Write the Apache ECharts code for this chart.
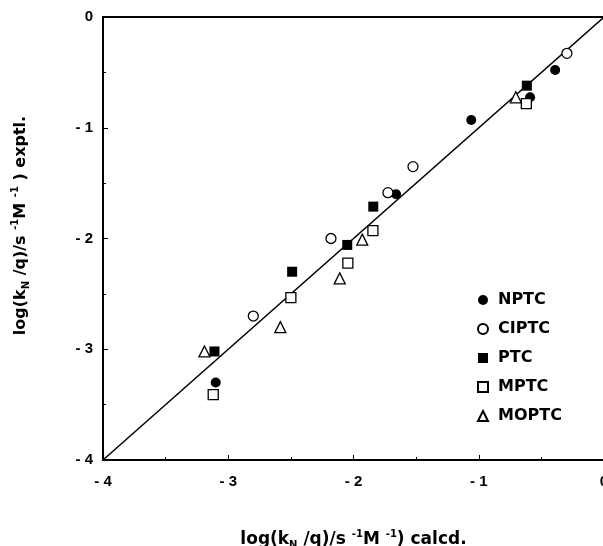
<!DOCTYPE html>
<html>
<head>
<meta charset="utf-8">
<script src="https://cdn.jsdelivr.net/npm/echarts@6/dist/echarts.min.js"></script>
<style>html,body{margin:0;padding:0;background:#fff;overflow:hidden}#c{width:603px;height:546px}</style>
</head>
<body>
<div id="c"></div>
<script>
var xTicks = [-4, -3, -2, -1, 0];
var yTicks = [0, -1, -2, -3, -4];
var nptc  = [[-3.10, -3.30], [-1.66, -1.60], [-1.06, -0.93], [-0.59, -0.725], [-0.39, -0.478]];
var ciptc = [[-2.80, -2.70], [-2.18, -2.00], [-1.725, -1.586], [-1.525, -1.351], [-0.296, -0.328]];
var ptc   = [[-3.11, -3.02], [-2.49, -2.30], [-2.05, -2.058], [-1.842, -1.712], [-0.616, -0.62]];
var mptc  = [[-3.12, -3.41], [-2.50, -2.533], [-2.045, -2.223], [-1.845, -1.928], [-0.62, -0.782]];
var moptc = [[-3.19, -3.02], [-2.584, -2.80], [-2.11, -2.36], [-1.93, -2.01], [-0.704, -0.725]];
var fitLine = [[-4, -4], [0, 0]];

var chart = echarts.init(document.getElementById('c'));
var FONT = '"Liberation Sans", Arial, sans-serif';
var WFONT = '"DejaVu Sans", sans-serif';
function fmt(v){ return v < 0 ? '- ' + Math.abs(v) : String(v); }
function rich(size) {
  return {
    b: {fontFamily: WFONT, fontWeight: 'bold', fontSize: size, color: '#000'},
    sub: {fontFamily: WFONT, fontWeight: 'bold', fontSize: 10, color: '#000', padding: [11, 0, 0, 0]},
    sup: {fontFamily: WFONT, fontWeight: 'bold', fontSize: 10, color: '#000', padding: [0, 0, 10, 0]}
  };
}
function sc(name, data, symbol, filled) {
  return {
    name: name, type: 'scatter', data: data, symbol: symbol, symbolSize: symbol === 'triangle' ? 11 : 10,
    itemStyle: {color: filled ? '#000' : '#fff', borderColor: '#000', borderWidth: filled ? 0 : 1.3, opacity: 1},
    z: 3
  };
}
chart.setOption({
  animation: false,
  backgroundColor: '#fff',
  grid: {left: 103, top: 17, width: 501, height: 443, containLabel: false, outerBoundsMode: 'none'},
  xAxis: [{
    type: 'value', min: -4, max: 0, interval: 1,
    axisLine: {show: true, onZero: false, lineStyle: {color: '#000', width: 2}},
    axisTick: {show: true, inside: true, length: 5, lineStyle: {color: '#000', width: 1}},
    minorTick: {show: true, splitNumber: 2, length: 3, lineStyle: {color: '#000'}},
    splitLine: {show: false},
    axisLabel: {formatter: fmt, fontFamily: FONT, fontWeight: 'bold', fontSize: 15, color: '#000', margin: 14},
    name: '{b|log(k}{sub|N}{b| /q)/s }{sup|-1}{b|M }{sup|-1}{b|) calcd.}',
    nameLocation: 'middle', nameGap: 69,
    nameTextStyle: {rich: rich(17)}
  }, {
    type: 'value', min: -4, max: 0, position: 'top',
    axisLine: {show: true, onZero: false, lineStyle: {color: '#000', width: 2}},
    axisTick: {show: false}, axisLabel: {show: false}, splitLine: {show: false}
  }],
  yAxis: [{
    type: 'value', min: -4, max: 0, interval: 1,
    axisLine: {show: true, onZero: false, lineStyle: {color: '#000', width: 2}},
    axisTick: {show: true, inside: true, length: 5, lineStyle: {color: '#000', width: 1}},
    minorTick: {show: true, splitNumber: 2, length: 3, lineStyle: {color: '#000'}},
    splitLine: {show: false},
    axisLabel: {formatter: fmt, fontFamily: FONT, fontWeight: 'bold', fontSize: 15, color: '#000', margin: 10},
    name: '{b|log(k}{sub|N}{b| /q)/s }{sup|-1}{b|M }{sup|-1}{b| ) exptl.}',
    nameLocation: 'middle', nameGap: 72, nameRotate: 90,
    nameTextStyle: {rich: rich(16), padding: [0, 0, 0, 26]}
  }, {
    type: 'value', min: -4, max: 0, position: 'right',
    axisLine: {show: true, onZero: false, lineStyle: {color: '#aaa', width: 1}},
    axisTick: {show: false}, axisLabel: {show: false}, splitLine: {show: false}
  }],
  legend: {
    orient: 'vertical', left: 472, top: 287, itemGap: 13, itemWidth: 10, itemHeight: 10,
    textStyle: {fontFamily: WFONT, fontWeight: 'bold', fontSize: 16, color: '#000', padding: [0, 0, 0, 5]},
    data: ['NPTC', 'CIPTC', 'PTC', 'MPTC', 'MOPTC']
  },
  series: [
    {type: 'line', data: fitLine, symbol: 'none', lineStyle: {color: '#000', width: 1.5}, z: 2, silent: true},
    sc('NPTC', nptc, 'circle', true),
    sc('CIPTC', ciptc, 'circle', false),
    sc('PTC', ptc, 'rect', true),
    sc('MPTC', mptc, 'rect', false),
    sc('MOPTC', moptc, 'triangle', false)
  ]
});
</script>
</body>
</html>
